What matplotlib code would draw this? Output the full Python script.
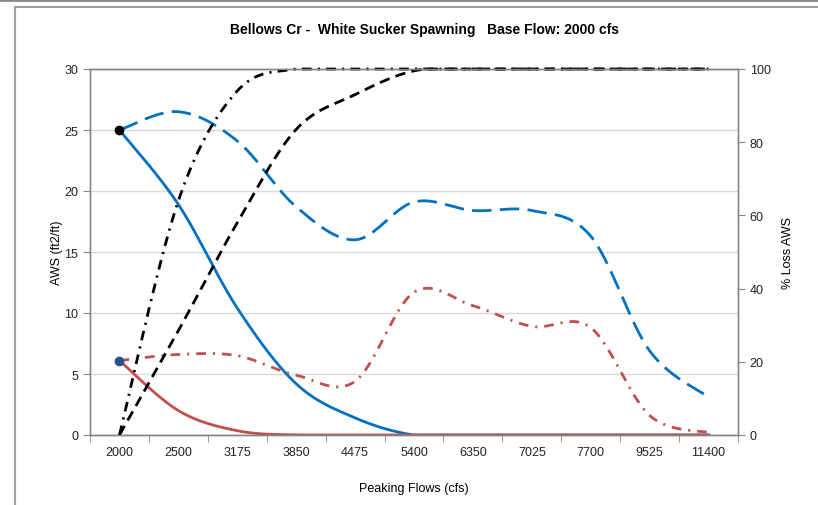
import matplotlib
matplotlib.use("Agg")
import matplotlib.pyplot as plt
import numpy as np
from matplotlib.patches import Rectangle
from matplotlib.lines import Line2D

plt.rcParams['font.family'] = ['Liberation Sans', 'DejaVu Sans']
plt.rcParams['lines.scale_dashes'] = False

# data
flows = ["2000", "2500", "3175", "3850", "4475", "5400", "6350", "7025", "7700", "9525", "11400"]
aws_blue_dash = [25, 26.5, 24.1, 18.7, 16.0, 19.1, 18.4, 18.4, 16.3, 6.9, 3.1]
aws_blue_solid = [25, 18.9, 10.4, 4.2, 1.4, 0, 0, 0, 0, 0, 0]
aws_red_dashdot = [6.1, 6.6, 6.5, 4.9, 4.4, 11.7, 10.6, 8.9, 8.8, 1.6, 0.2]
aws_red_solid = [6.1, 2.0, 0.35, 0, 0, 0, 0, 0, 0, 0, 0]
loss_dashdot = [0, 64, 94, 100, 100, 100, 100, 100, 100, 100, 100]
loss_dash = [0, 28.5, 58, 83.5, 93, 99.5, 100, 100, 100, 100, 100]


def smooth(y, lo, hi, n=30):
    # catmull-rom style smoothing, like Excel's "smoothed line"
    y = np.asarray(y, float)
    x = np.arange(len(y), dtype=float)
    px = np.concatenate([[x[0]], x, [x[-1]]])
    py = np.concatenate([[y[0]], y, [y[-1]]])
    xs, ys = [], []
    for i in range(1, len(px) - 2):
        t = np.linspace(0, 1, n, endpoint=False)
        p0, p1, p2, p3 = py[i - 1], py[i], py[i + 1], py[i + 2]
        q0, q1, q2, q3 = px[i - 1], px[i], px[i + 1], px[i + 2]
        f = lambda a0, a1, a2, a3: 0.5 * ((2 * a1) + (-a0 + a2) * t
                                          + (2 * a0 - 5 * a1 + 4 * a2 - a3) * t ** 2
                                          + (-a0 + 3 * a1 - 3 * a2 + a3) * t ** 3)
        xs.append(f(q0, q1, q2, q3))
        ys.append(f(p0, p1, p2, p3))
    xs.append([x[-1]])
    ys.append([y[-1]])
    return np.concatenate(xs), np.clip(np.concatenate(ys), lo, hi)


blue = "#0070C0"
red = "#C0504D"
grey = "#868686"

fig = plt.figure(figsize=(8.18, 5.06), dpi=100)
ax = fig.add_axes([90 / 818, 1 - 436 / 506, 648 / 818, 366 / 506])
ax2 = ax.twinx()

lw = 2.0
xs, ys = smooth(aws_blue_dash, 0, 30)
ax.plot(xs, ys, color=blue, lw=lw, dashes=(14, 6), zorder=3)
xs, ys = smooth(aws_blue_solid, 0, 30)
ax.plot(xs, ys, color=blue, lw=lw, zorder=3)
xs, ys = smooth(aws_red_dashdot, 0, 30)
ax.plot(xs, ys, color=red, lw=lw, dashes=(7, 5, 1.5, 5), zorder=3)
xs, ys = smooth(aws_red_solid, 0, 30)
ax.plot(xs, ys, color=red, lw=lw, zorder=3)
ax.plot([0], [aws_blue_dash[0]], 'o', color='black', ms=6, zorder=5)
ax.plot([0], [aws_red_solid[0]], 'o', color='#2B4F8C', ms=6, zorder=5)

xs, ys = smooth(loss_dashdot, 0, 100)
ax2.plot(xs, ys, color='black', lw=lw, dashes=(7, 4.5, 1.5, 4.5), clip_on=False)
xs, ys = smooth(loss_dash, 0, 100)
ax2.plot(xs, ys, color='black', lw=lw, dashes=(7.5, 4.5), clip_on=False)

ax.set_xlim(-0.5, len(flows) - 0.5)
ax.set_ylim(0, 30)
ax.set_yticks(range(0, 31, 5))
ax.set_xticks(range(len(flows)))
ax.set_xticklabels(flows)
ax.set_xticks(np.arange(-0.5, len(flows), 1), minor=True)
ax.tick_params(axis='x', which='major', length=0, pad=8)
ax.tick_params(axis='x', which='minor', length=5, color=grey)
ax.tick_params(axis='y', length=5, color=grey)
ax.tick_params(labelsize=9, labelcolor='#222222')
ax.yaxis.grid(True, color='#D9D9D9', lw=1)
ax.set_axisbelow(True)

ax2.set_ylim(0, 100)
ax2.set_yticks(range(0, 101, 20))
ax2.tick_params(axis='y', length=5, color=grey, labelsize=9, labelcolor='#222222')

for a in (ax, ax2):
    for s in a.spines.values():
        s.set_color(grey)
        s.set_linewidth(1)

ax.set_ylabel("AWS (ft2/ft)", fontsize=9, labelpad=1)
ax2.set_ylabel("% Loss AWS", fontsize=9, labelpad=8)
ax.set_xlabel("Peaking Flows (cfs)", fontsize=9, labelpad=17)
fig.text(425 / 818, 1 - 30 / 506, "Bellows Cr -  White Sucker Spawning   Base Flow: 2000 cfs",
         ha='center', va='center', fontsize=10, fontweight='bold')

# outer chart frame
fig.add_artist(Rectangle((15 / 818, -0.1), 1.0, 1.1 - 8 / 506, transform=fig.transFigure,
                         fill=False, edgecolor='#A0A0A0', lw=1.5))
fig.add_artist(Line2D([0, 1], [1 - 1 / 506, 1 - 1 / 506], transform=fig.transFigure,
                      color='#888888', lw=2))

fig.savefig("out.png", dpi=100)
